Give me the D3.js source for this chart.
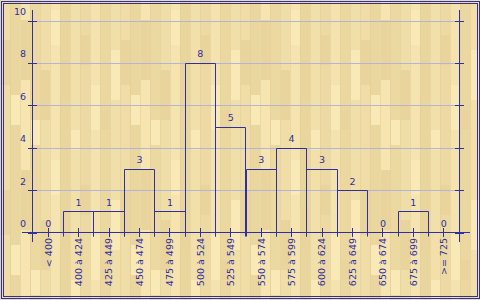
<!DOCTYPE html>
<html><head><meta charset="utf-8">
<script src="https://cdn.jsdelivr.net/npm/d3@7/dist/d3.min.js"></script>
<style>html,body{margin:0;padding:0;background:#efdca6;}svg{display:block;}</style>
</head><body>
<script>
const categories = ["< 400","400 à 424","425 à 449","450 à 474","475 à 499","500 à 524","525 à 549","550 à 574","575 à 599","600 à 624","625 à 649","650 à 674","675 à 699",">= 725"];
const counts = [0,1,1,3,1,8,5,3,4,3,2,0,1,0];
const yTicks = [0,2,4,6,8,10];

const W = 480, H = 300;
const navy = "#2f2fa0";
const font = "DejaVu Sans, sans-serif";
const svg = d3.select("body").append("svg").attr("width", W).attr("height", H);

// wood-like background pattern (decoration)
const defs = svg.append("defs");
const pat = defs.append("pattern").attr("id","wood").attr("patternUnits","userSpaceOnUse")
  .attr("width",120).attr("height",150);
const plankShades = ["#efdca6","#ead7a0","#f6e5b1","#ecd9a2","#f0dea9","#f5e4af","#e9d69f","#f2e0ab","#edd9a3","#f4e3ae","#ebd8a1","#f1dfaa"];
const seams = [40,95,20,120,70,10,60,130,35,85,110,50];
const lens = [45,30,60,25,50,35,40,55,30,45,20,50];
plankShades.forEach((c,i)=>{
  pat.append("rect").attr("x",i*10).attr("y",0).attr("width",10).attr("height",150).attr("fill",c);
  pat.append("rect").attr("x",i*10+1).attr("y",seams[i]).attr("width",9).attr("height",lens[i])
    .attr("fill", i%2 ? "#f9e9b7" : "#e8d49c");
  pat.append("line").attr("x1",i*10+0.5).attr("x2",i*10+0.5).attr("y1",0).attr("y2",150)
    .attr("stroke","#e2cd92").attr("stroke-width",1).attr("opacity",0.5);
});
svg.append("rect").attr("width",W).attr("height",H).attr("fill","url(#wood)");

// frames
svg.append("rect").attr("x",1.5).attr("y",1.5).attr("width",478).attr("height",297)
  .attr("fill","none").attr("stroke",navy);
svg.append("rect").attr("x",3.5).attr("y",3.5).attr("width",474).attr("height",293)
  .attr("fill","none").attr("stroke",navy);

const x = d3.scaleBand().domain(categories).range([32.5,458.5]).padding(0);
const y = d3.scaleLinear().domain([0,10]).range([232.5,20.5]);
const bw = x.bandwidth();

// gridlines
svg.append("g").selectAll("line").data(yTicks.filter(d=>d>0)).join("line")
  .attr("x1",32.5).attr("x2",459.5)
  .attr("y1",d=>Math.round(y(d))+0.5).attr("y2",d=>Math.round(y(d))+0.5)
  .attr("stroke","#b4b4d6").attr("stroke-width",1);

const gA = svg.append("g").attr("stroke",navy).attr("fill","none").attr("stroke-width",1);
// vertical axes
[32.5,459.5].forEach(ax=>{
  gA.append("line").attr("x1",ax).attr("x2",ax).attr("y1",10).attr("y2",242);
  gA.selectAll(null).data(yTicks).join("line")
    .attr("x1",ax-4.5).attr("x2",ax+4.5)
    .attr("y1",d=>Math.round(y(d))+0.5).attr("y2",d=>Math.round(y(d))+0.5);
});
// x axis line
gA.append("line").attr("x1",22).attr("x2",470).attr("y1",232.5).attr("y2",232.5);

// y labels
svg.append("g").selectAll("text").data(yTicks).join("text")
  .attr("x",26).attr("y",d=>y(d)-5.5).attr("text-anchor","end")
  .attr("font-family",font).attr("font-size",9.5).attr("fill",navy).text(d=>d);

// bars (outlines)
const gB = svg.append("g").attr("stroke",navy).attr("fill","none").attr("stroke-width",1);
categories.forEach((c,i)=>{
  const v = counts[i];
  if (v > 0) {
    const x0 = Math.round(x(c))+0.5, x1 = Math.round(x(c)+bw)+0.5, yt = Math.round(y(v))+0.5;
    gB.append("path").attr("d",`M${x0},236.5V${yt}H${x1}V236.5`);
  }
  const cx = Math.round(x(c)+bw/2)+0.5;
  gB.append("line").attr("x1",cx).attr("x2",cx).attr("y1",228).attr("y2",237);
});

// value labels
svg.append("g").selectAll("text").data(categories).join("text")
  .attr("x",d=>x(d)+bw/2+0.5).attr("y",(d,i)=>y(counts[i])-5.5)
  .attr("text-anchor","middle").attr("font-family",font).attr("font-size",9.5)
  .attr("fill",navy).text((d,i)=>counts[i]);

// category labels, rotated
svg.append("g").selectAll("text").data(categories).join("text")
  .attr("transform",d=>`translate(${x(d)+bw/2+0.5},238) rotate(-90)`)
  .attr("text-anchor","end").attr("dy","0.35em")
  .attr("font-family",font).attr("font-size",9.5).attr("fill",navy).text(d=>d);
</script>
</body></html>
